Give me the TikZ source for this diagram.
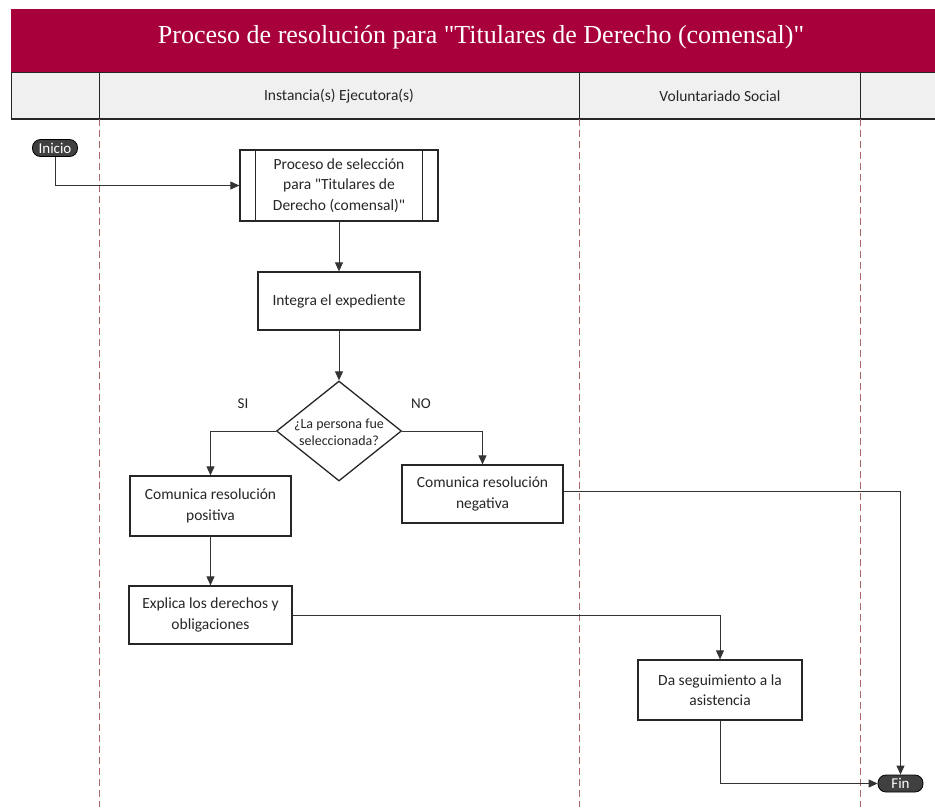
\documentclass[tikz,border=0pt]{standalone}
\usepackage{fontspec}
\setmainfont{Carlito}
\newfontfamily\titlefont{Liberation Serif}
\usetikzlibrary{arrows.meta,shapes.geometric,calc}
\definecolor{band}{HTML}{A8003A}
\definecolor{hdr}{HTML}{F0F0F0}
\definecolor{lanec}{HTML}{A86868}
\definecolor{pill}{HTML}{404040}
\tikzset{
  box/.style={draw=black!85, line width=1.3pt, fill=white, align=center, inner sep=2pt,
    font=\fontsize{15.5}{20.5}\selectfont, text=black!85},
  pillnode/.style={draw=black, line width=0.8pt, fill=pill, text=white, rounded corners=8pt,
    minimum width=45pt, minimum height=17pt, inner sep=0pt, font=\fontsize{15}{15}\selectfont},
  conn/.style={draw=black!80, line width=0.8pt, -{Triangle[length=9pt,width=8pt]}},
  lane/.style={draw=lanec, line width=0.9pt, dash pattern=on 7pt off 4pt},
  hdrtext/.style={font=\fontsize{15.5}{18}\selectfont, text=black!85},
  lbl/.style={font=\fontsize{15}{18}\selectfont, text=black!85}
}
\begin{document}
\begin{tikzpicture}[x=1pt,y=-1pt]
\useasboundingbox (0,0) rectangle (935,807);
% title band
\fill[band] (11,9) rectangle (935,72);
\node[text=white, font=\titlefont\fontsize{26}{30}\selectfont] (title) at (481,37)
  {Proceso de resolución para \textquotedbl Titulares de Derecho (comensal)\textquotedbl};
% header row
\fill[hdr] (11,72) rectangle (935,119);
\draw[black!85, line width=0.9pt] (11,72) -- (935,72);
\draw[black!85, line width=1.2pt] (11,119) -- (935,119);
\draw[black!85, line width=0.9pt] (11,72) -- (11,119);
\foreach \xx in {99,579,860} \draw[black!85, line width=0.9pt] (\xx,72) -- (\xx,119);
\node[hdrtext] (h1) at (339,96) {Instancia(s) Ejecutora(s)};
\node[hdrtext] (h2) at (720,96) {Voluntariado Social};
% lanes
\foreach \xx in {99,579,860} \draw[lane] (\xx,119) -- (\xx,807);
% nodes
\node[pillnode] (inicio) at (55,148) {Inicio};
\node[pillnode] (fin) at (900.5,783.5) {Fin};
\node[box, minimum width=198pt, minimum height=71pt] (proc) at (339,185.5)
  {Proceso de selección\\para \textquotedbl Titulares de\\Derecho (comensal)\textquotedbl};
\draw[black!85, line width=1.3pt] ($(proc.north west)+(16pt,0pt)$) -- ($(proc.south west)+(16pt,0pt)$);
\draw[black!85, line width=1.3pt] ($(proc.north east)+(-16pt,0pt)$) -- ($(proc.south east)+(-16pt,0pt)$);
\node[box, minimum width=162pt, minimum height=58pt] (integra) at (339,301) {Integra el expediente};
\node[diamond, draw=black!85, line width=1.3pt, fill=white, minimum width=125pt, minimum height=100pt,
  inner sep=0pt] (dia) at (339,431) {};
\node[align=center, font=\fontsize{14}{16.5}\selectfont, text=black!85] (diatext) at (339,432)
  {¿La persona fue\\seleccionada?};
\node[box, minimum width=161pt, minimum height=60pt] (pos) at (210.5,506) {Comunica resolución\\positiva};
\node[box, minimum width=161pt, minimum height=58pt] (neg) at (482.5,494) {Comunica resolución\\negativa};
\node[box, minimum width=163pt, minimum height=58pt] (exp) at (210.5,615) {Explica los derechos y\\obligaciones};
\node[box, minimum width=164pt, minimum height=60pt] (da) at (720,690) {Da seguimiento a la\\asistencia};
\node[lbl] (si) at (243,404) {SI};
\node[lbl] (no) at (421,404) {NO};
% connectors
\draw[conn] (inicio.south) |- (proc.west);
\draw[conn] (proc.south) -- (integra.north);
\draw[conn] (integra.south) -- (dia.north);
\draw[conn] (dia.west) -| (pos.north);
\draw[conn] (dia.east) -| (neg.north);
\draw[conn] (pos.south) -- (exp.north);
\draw[conn] ($(neg.east)+(0pt,3pt)$) -| (fin.north);
\draw[conn] (exp.east) -| (da.north);
\draw[conn] (da.south) |- (fin.west);
\end{tikzpicture}
\end{document}
